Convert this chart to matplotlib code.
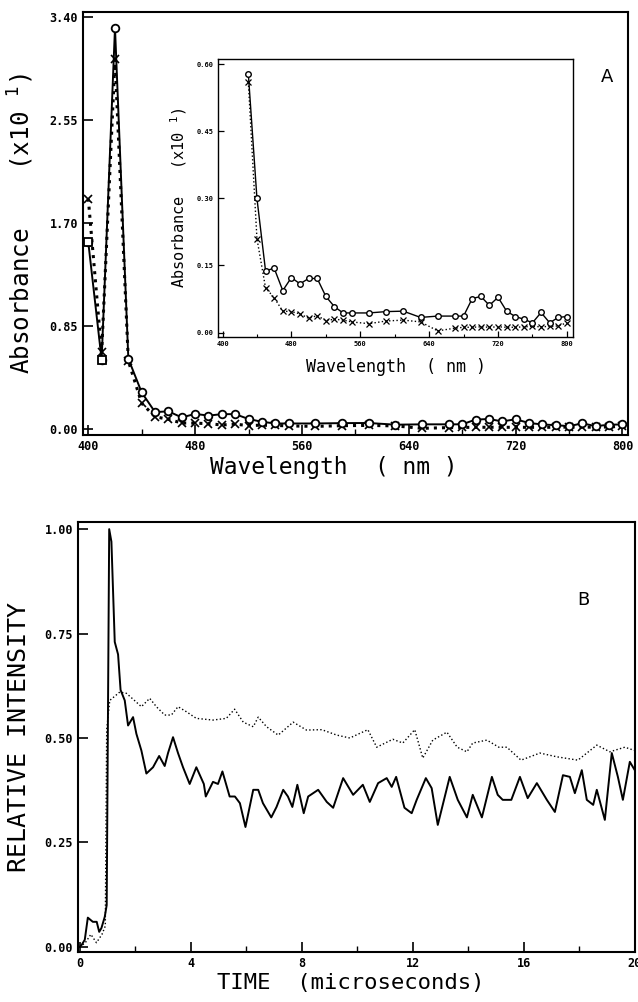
import numpy as np
import matplotlib
matplotlib.use("Agg")
import matplotlib.pyplot as plt
from matplotlib.ticker import MultipleLocator, FixedLocator

# Absorbance spectra (units of x10^1), circle series and cross series
wl = [400, 410, 420, 430, 440, 450, 460, 470, 480, 490, 500, 510, 520, 530, 540, 550,
      570, 590, 610, 630, 650, 670, 680, 690, 700, 710, 720, 730, 740, 750, 760, 770,
      780, 790, 800]
abs_o = [1.54, 0.57, 3.31, 0.578, 0.30, 0.138, 0.144, 0.094, 0.123, 0.109, 0.121, 0.121,
         0.081, 0.058, 0.044, 0.044, 0.044, 0.047, 0.048, 0.034, 0.037, 0.037, 0.037,
         0.076, 0.081, 0.061, 0.079, 0.048, 0.036, 0.030, 0.022, 0.045, 0.022, 0.034, 0.036]
abs_x = [1.90, 0.63, 3.05, 0.56, 0.21, 0.100, 0.078, 0.048, 0.047, 0.042, 0.032, 0.038,
         0.027, 0.030, 0.028, 0.024, 0.020, 0.026, 0.028, 0.024, 0.004, 0.010, 0.012,
         0.012, 0.013, 0.012, 0.013, 0.012, 0.012, 0.013, 0.014, 0.013, 0.014, 0.015, 0.022]

# Emission decay traces
t_solid = [0.0, 0.07, 0.18, 0.29, 0.47, 0.61, 0.70, 0.78, 0.90, 0.97, 1.06, 1.14, 1.26,
           1.38, 1.47, 1.62, 1.74, 1.92, 2.04, 2.22, 2.40, 2.64, 2.86, 3.06, 3.18, 3.36,
           3.54, 3.72, 3.96, 4.20, 4.47, 4.54, 4.80, 4.98, 5.14, 5.40, 5.59, 5.77, 5.97,
           6.25, 6.43, 6.60, 6.90, 7.09, 7.33, 7.50, 7.66, 7.84, 8.07, 8.23, 8.59, 8.90,
           9.13, 9.49, 9.85, 10.2, 10.45, 10.75, 11.06, 11.24, 11.4, 11.7, 11.96, 12.14,
           12.47, 12.68, 12.9, 13.33, 13.62, 13.95, 14.16, 14.49, 14.85, 15.06, 15.24,
           15.55, 15.86, 16.14, 16.47, 16.83, 17.12, 17.41, 17.66, 17.84, 18.09, 18.27,
           18.5, 18.63, 18.92, 19.17, 19.39, 19.57, 19.82, 20.0]
i_solid = [0.0, 0.005, 0.017, 0.07, 0.06, 0.06, 0.036, 0.045, 0.072, 0.10, 1.0, 0.97,
           0.73, 0.70, 0.615, 0.59, 0.53, 0.55, 0.51, 0.47, 0.415, 0.43, 0.457, 0.433,
           0.464, 0.502, 0.464, 0.43, 0.39, 0.43, 0.39, 0.36, 0.395, 0.39, 0.42, 0.36,
           0.36, 0.344, 0.287, 0.376, 0.376, 0.344, 0.31, 0.335, 0.376, 0.36, 0.335,
           0.388, 0.32, 0.36, 0.376, 0.347, 0.333, 0.404, 0.364, 0.388, 0.347, 0.392,
           0.404, 0.383, 0.407, 0.333, 0.32, 0.352, 0.404, 0.38, 0.292, 0.407, 0.352,
           0.31, 0.364, 0.31, 0.407, 0.364, 0.352, 0.352, 0.407, 0.356, 0.392, 0.352,
           0.323, 0.411, 0.407, 0.368, 0.423, 0.352, 0.34, 0.376, 0.304, 0.464, 0.407,
           0.352, 0.443, 0.423]
t_dot = [0.0, 0.2, 0.4, 0.6, 0.8, 0.92, 0.97, 1.08, 1.26, 1.44, 1.68, 1.92, 2.22, 2.52,
         2.76, 3.06, 3.30, 3.54, 3.84, 4.20, 4.80, 5.28, 5.58, 5.89, 6.25, 6.43, 6.73,
         7.15, 7.69, 8.17, 8.72, 9.26, 9.73, 10.38, 10.7, 11.28, 11.64, 12.07, 12.36,
         12.72, 13.23, 13.6, 13.95, 14.16, 14.67, 15.1, 15.39, 15.9, 16.58, 17.19, 17.95,
         18.63, 19.1, 19.64, 20.0]
i_dot = [0.0, 0.01, 0.03, 0.01, 0.03, 0.05, 0.52, 0.59, 0.60, 0.61, 0.607, 0.593, 0.575,
         0.595, 0.575, 0.555, 0.555, 0.575, 0.563, 0.547, 0.543, 0.547, 0.569, 0.538,
         0.527, 0.55, 0.527, 0.507, 0.538, 0.519, 0.52, 0.507, 0.50, 0.52, 0.478, 0.497,
         0.488, 0.52, 0.452, 0.495, 0.514, 0.478, 0.467, 0.488, 0.495, 0.478, 0.478,
         0.447, 0.464, 0.455, 0.447, 0.483, 0.467, 0.478, 0.47]

mono = "DejaVu Sans Mono"
plt.rcParams["font.family"] = mono
plt.rcParams["xtick.direction"] = "in"
plt.rcParams["ytick.direction"] = "in"

fig = plt.figure(figsize=(6.38, 10.02), dpi=100)


def style_ticks(ax, size):
    for lab in ax.get_xticklabels() + ax.get_yticklabels():
        lab.set_fontweight("bold")
        lab.set_fontsize(size)


# ---- panel A: main spectrum
ax = fig.add_axes([0.130, 0.566, 0.854, 0.422])
ax.plot(wl, abs_x, color="black", ls=":", lw=2.2, marker="x", ms=6, mew=1.2)
ax.plot(wl, abs_o, color="black", ls="-", lw=1.4, marker="o", ms=5.5, mfc="white",
        mew=1.3)
ax.plot(wl[:2], abs_o[:2], ls="none", marker="s", ms=5.5, mfc="white", mec="black",
        mew=1.3)
ax.set_xlim(396, 804)
ax.set_ylim(-0.05, 3.44)
ax.xaxis.set_major_locator(MultipleLocator(80))
ax.xaxis.set_minor_locator(MultipleLocator(40))
ax.yaxis.set_major_locator(FixedLocator([0.0, 0.85, 1.70, 2.55, 3.40]))
ax.yaxis.set_major_formatter(plt.FormatStrFormatter("%.2f"))
ax.tick_params(which="major", length=7, width=1.2)
ax.tick_params(which="minor", length=4, width=1.0)
style_ticks(ax, 8.5)
for s in ax.spines.values():
    s.set_linewidth(1.5)
ax.set_xlabel("Wavelength  ( nm )", fontsize=16.5)
ax.xaxis.set_label_coords(0.46, -0.05)
ax.set_ylabel("Absorbance    (x10 $^{1}$)", fontsize=17.5, labelpad=10)
fig.text(0.951, 0.923, "A", fontsize=13, fontfamily="DejaVu Sans", ha="center",
         va="center")

# inset: enlarged view of the low-absorbance region
axi = fig.add_axes([0.342, 0.664, 0.556, 0.277])
axi.plot(wl[3:], abs_x[3:], color="black", ls=":", lw=1.0, marker="x", ms=4, mew=0.9)
axi.plot(wl[3:], abs_o[3:], color="black", ls="-", lw=1.0, marker="o", ms=4,
         mfc="white", mew=1.0)
axi.set_xlim(395, 807)
axi.set_ylim(-0.009, 0.611)
axi.xaxis.set_major_locator(MultipleLocator(80))
axi.xaxis.set_minor_locator(MultipleLocator(40))
axi.yaxis.set_major_locator(FixedLocator([0.0, 0.15, 0.30, 0.45, 0.60]))
axi.yaxis.set_major_formatter(plt.FormatStrFormatter("%.2f"))
axi.tick_params(which="major", length=4, width=0.9, pad=3)
axi.tick_params(which="minor", length=2, width=0.8)
style_ticks(axi, 5)
for s in axi.spines.values():
    s.set_linewidth(1.0)
axi.set_xlabel("Wavelength  ( nm )", fontsize=12, labelpad=8)
axi.set_ylabel("Absorbance   (x10 $^{1}$)", fontsize=11, labelpad=6)

# ---- panel B: time-resolved emission
axb = fig.add_axes([0.122, 0.050, 0.873, 0.429])
axb.plot(t_dot, i_dot, color="black", ls=":", lw=1.0)
axb.plot(t_solid, i_solid, color="black", ls="-", lw=1.4)
axb.set_xlim(-0.07, 20)
axb.set_ylim(-0.012, 1.017)
axb.xaxis.set_major_locator(MultipleLocator(4))
axb.xaxis.set_minor_locator(MultipleLocator(2))
axb.yaxis.set_major_locator(MultipleLocator(0.25))
axb.yaxis.set_major_formatter(plt.FormatStrFormatter("%.2f"))
axb.tick_params(which="major", length=7, width=1.2)
axb.tick_params(which="minor", length=4, width=1.0)
style_ticks(axb, 8.5)
for s in axb.spines.values():
    s.set_linewidth(1.5)
axb.set_xlabel("TIME  (microseconds)", fontsize=16)
axb.xaxis.set_label_coords(0.49, -0.05)
axb.set_ylabel("RELATIVE INTENSITY", fontsize=18, labelpad=10)
fig.text(0.914, 0.401, "B", fontsize=13, fontfamily="DejaVu Sans", ha="center",
         va="center")

fig.savefig("out.png", dpi=100)
